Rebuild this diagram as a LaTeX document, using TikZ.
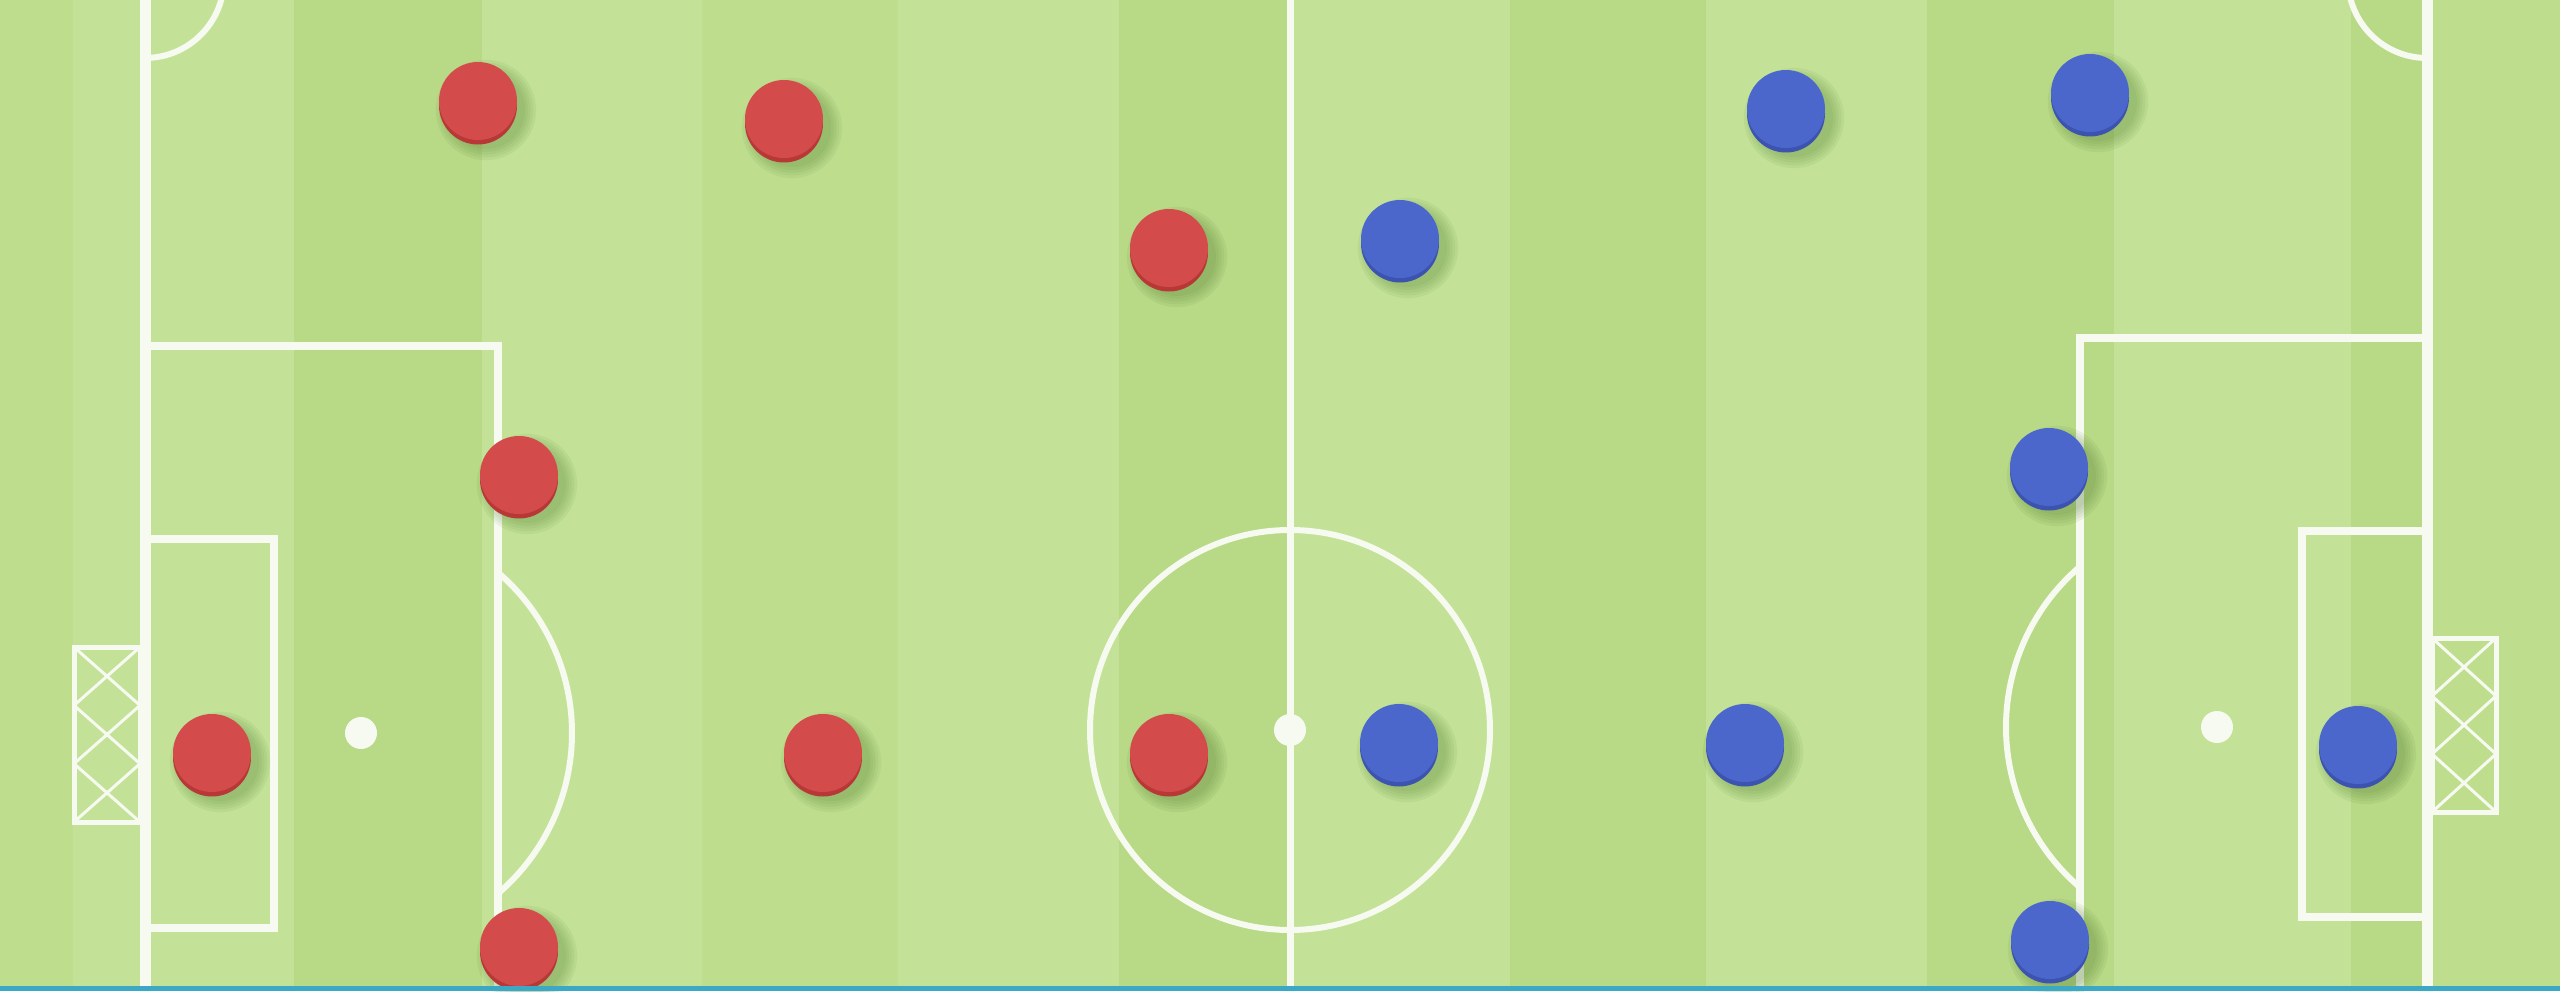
\documentclass[tikz,border=0pt]{standalone}
\usepackage{xcolor}
\usepackage{tikz}
\usetikzlibrary{positioning,calc}
\definecolor{grasslight}{RGB}{195,226,151}
\definecolor{grassdark}{RGB}{184,217,134}
\definecolor{grassmid}{RGB}{190,222,142}
\definecolor{chalk}{RGB}{247,250,241}
\definecolor{teamred}{RGB}{211,75,75}
\definecolor{teamreddark}{RGB}{184,56,56}
\definecolor{teamblue}{RGB}{75,103,203}
\definecolor{teambluedark}{RGB}{60,84,176}
\definecolor{edgeteal}{RGB}{59,169,198}
\definecolor{grassshadow}{RGB}{80,125,45}

\begin{document}
\begin{tikzpicture}[
  x=0.1mm, y=0.1mm,
  goalline/.style={draw=chalk, line width=1.1mm},
  chalkline/.style={draw=chalk, line width=0.8mm},
  arcline/.style={draw=chalk, line width=0.6mm},
  netline/.style={draw=chalk, line width=0.3mm},
  player/.style={circle, inner sep=0pt, minimum size=7.8mm},
  redp/.style={player, fill=teamred,
    preaction={fill=teamreddark, transform canvas={yshift=-0.45mm}}},
  bluep/.style={player, fill=teamblue,
    preaction={fill=teambluedark, transform canvas={yshift=-0.45mm}}},
  spot/.style={fill=chalk}
]
  \useasboundingbox (0,0) rectangle (2560,991);
  \clip (0,0) rectangle (2560,991);

  % grass stripes
  \foreach \xa/\xb/\col in {0/73/grassmid, 73/139/grasslight, 139/294/grasslight,
      294/482/grassdark, 482/702/grasslight, 702/898/grassmid, 898/1119/grasslight,
      1119/1290/grassdark, 1290/1510/grasslight, 1510/1706/grassdark,
      1706/1927/grasslight, 1927/2114/grassdark, 2114/2351/grasslight,
      2351/2433/grassdark, 2433/2560/grassmid}
    \fill[\col] (\xa,0) rectangle (\xb,991);

  % left half
  \draw[chalkline] (145,645) -- (498,645) -- (498,-20);
  \draw[chalkline] (145,452) -- (274,452) -- (274,63) -- (145,63);
  \draw[arcline] (361,258) ++(-49.5:21.1mm) arc (-49.5:49.5:21.1mm);
  \draw[arcline] (145,933) arc (-90:0:7.9mm);
  \fill[spot] (361,258) circle (1.6mm);
  \draw[netline, line width=0.5mm] (74,169) rectangle (140,344);
  \foreach \i in {0,1,2}
    \draw[netline] (74,169+\i*58.3) -- (140,169+\i*58.3+58.3)
                   (74,169+\i*58.3+58.3) -- (140,169+\i*58.3);
  \draw[goalline] (145,-20) -- (145,1020);

  % centre
  \draw[chalkline, line width=0.7mm] (1290,-20) -- (1290,1020);
  \draw[arcline] (1290,261) circle (20mm);
  \fill[spot] (1290,261) circle (1.6mm);

  % right half
  \draw[chalkline] (2427,653) -- (2080,653) -- (2080,-20);
  \draw[chalkline] (2427,460) -- (2302,460) -- (2302,74) -- (2427,74);
  \draw[arcline] (2217,264) ++(130.5:21.1mm) arc (130.5:229.5:21.1mm);
  \draw[arcline] (2348,1012) arc (180:270:7.9mm);
  \fill[spot] (2217,264) circle (1.6mm);
  \draw[netline, line width=0.5mm] (2432,179) rectangle (2496,353);
  \foreach \i in {0,1,2}
    \draw[netline] (2432,179+\i*58) -- (2496,179+\i*58+58)
                   (2432,179+\i*58+58) -- (2496,179+\i*58);
  \draw[goalline] (2427,-20) -- (2427,1020);

  % red team
  \foreach \nm/\px/\py in {r1/478/890, r2/784/872, r3/1169/743, r4/519/516,
      r5/212/238, r6/823/238, r7/1169/238, r8/519/44} {
    \foreach \k in {0,...,4}
      \fill[grassshadow, opacity=0.08] (\px+8,\py-9) circle ({3.9mm+\k*0.28mm});
    \node[redp] (\nm) at (\px,\py) {};
  }

  % blue team
  \foreach \nm/\px/\py in {b1/1786/882, b2/2090/898, b3/1400/752, b4/2049/524,
      b5/1399/248, b6/1745/248, b7/2358/246, b8/2050/51} {
    \foreach \k in {0,...,4}
      \fill[grassshadow, opacity=0.08] (\px+8,\py-9) circle ({3.9mm+\k*0.28mm});
    \node[bluep] (\nm) at (\px,\py) {};
  }

  \fill[edgeteal] (0,0) rectangle (2560,5);
\end{tikzpicture}
\end{document}
